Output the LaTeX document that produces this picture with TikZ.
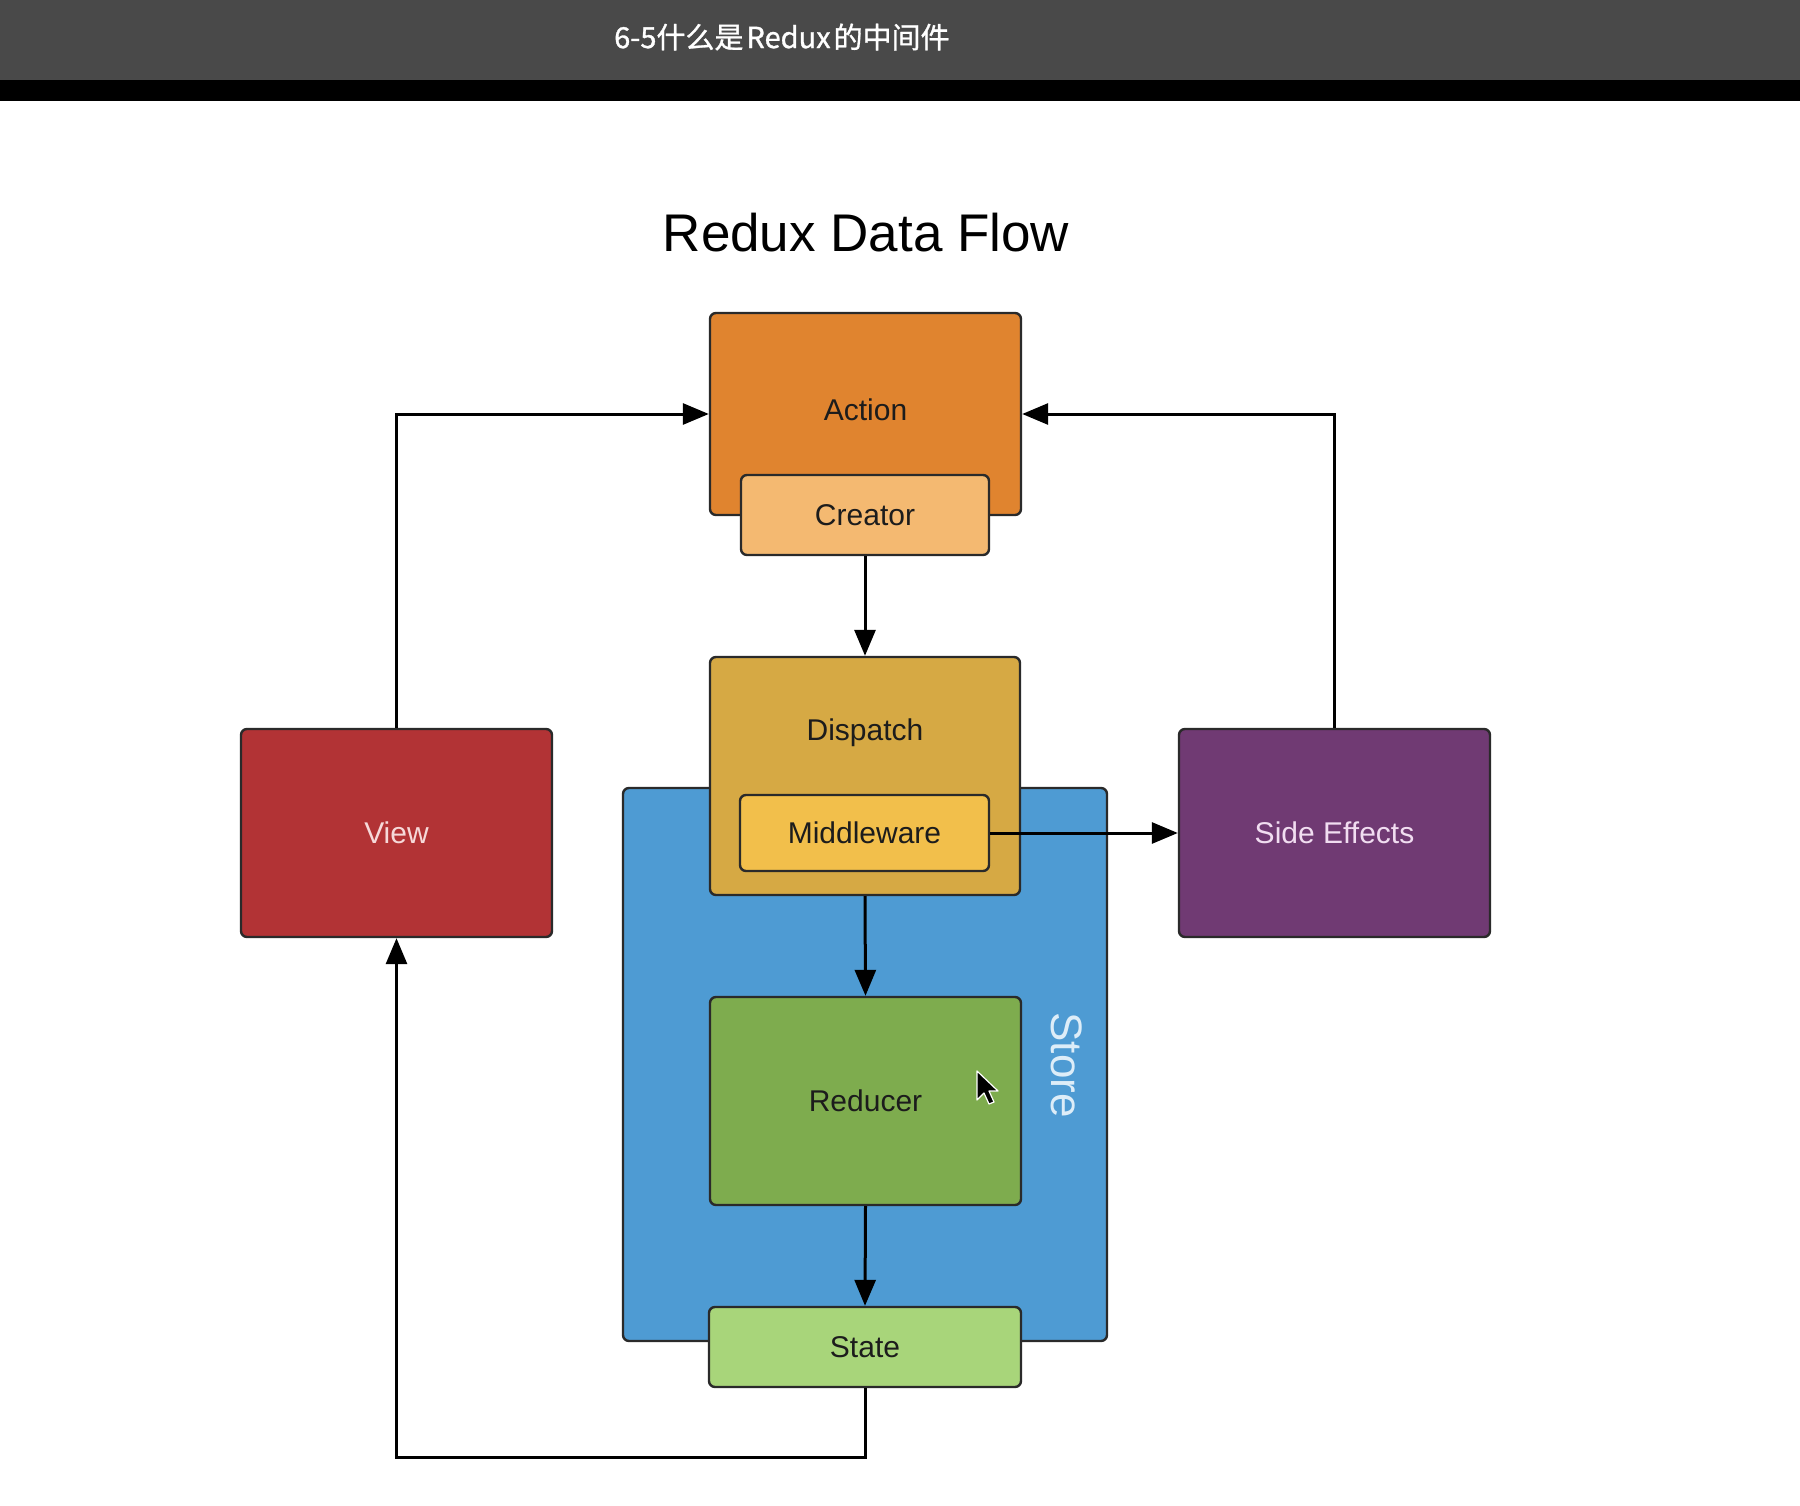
\documentclass[tikz,border=0pt]{standalone}
\usepackage{fontspec}
\setmainfont{Liberation Sans}
\newfontfamily\cjkfont[FakeBold=1]{Noto Sans CJK SC}
\usetikzlibrary{arrows.meta,calc}
\definecolor{hdrgray}{HTML}{494949}
\definecolor{cAction}{HTML}{E0842F}
\definecolor{cCreator}{HTML}{F4B971}
\definecolor{cDispatch}{HTML}{D6A944}
\definecolor{cMiddle}{HTML}{F2BF4B}
\definecolor{cStore}{HTML}{4E9BD3}
\definecolor{cReducer}{HTML}{7EAC4E}
\definecolor{cState}{HTML}{A8D57A}
\definecolor{cView}{HTML}{B23335}
\definecolor{cSide}{HTML}{703A73}
\definecolor{cBorder}{HTML}{2A2A2A}
\definecolor{cDark}{HTML}{1C1C1C}
\definecolor{cViewTxt}{HTML}{F6D9D9}
\definecolor{cSideTxt}{HTML}{F1DDF1}
\definecolor{cStoreTxt}{HTML}{DDEDF8}
\tikzset{
  boxstyle/.style={draw=cBorder, line width=2.4pt, rounded corners=6pt, rectangle, inner sep=0pt, font=\fontsize{30}{36}\selectfont, text=cDark},
  arr/.style={line width=3pt, -{Triangle[length=26pt,width=21pt]}}
}
\begin{document}
\begin{tikzpicture}[x=1pt,y=-1pt]
\useasboundingbox (0,0) rectangle (1800,1506);
\fill[white] (0,0) rectangle (1800,1506);
% header
\fill[hdrgray] (0,0) rectangle (1800,80);
\fill[black] (0,80) rectangle (1800,101);
\node[text=white, anchor=west, inner sep=0pt, font=\cjkfont\fontsize{29}{33}\selectfont] (hdr) at (614,37) {6-5什么是\hspace{3pt}Redux\hspace{3pt}的中间件};
% title
\node[inner sep=0pt, font=\fontsize{53}{60}\selectfont, text=black] (title) at (866,233) {Redux Data Flow};
% store
\node[boxstyle, fill=cStore, minimum width=484pt, minimum height=553pt] (store) at (865,1064.5) {};
\node[rotate=-90, inner sep=0pt, font=\fontsize{44}{50}\selectfont, text=cStoreTxt] (storeT) at (1067,1065) {Store};
% action / creator
\node[boxstyle, fill=cAction, minimum width=311pt, minimum height=202pt] (action) at (865.5,414) {};
\node[inner sep=0pt, font=\fontsize{30}{36}\selectfont, text=cDark] (actionT) at (865.5,410) {Action};
\node[boxstyle, fill=cCreator, minimum width=248pt, minimum height=80pt] (creator) at (865,515) {Creator};
% dispatch / middleware
\node[boxstyle, fill=cDispatch, minimum width=310pt, minimum height=238pt] (disp) at (865,776) {};
\node[inner sep=0pt, font=\fontsize{30}{36}\selectfont, text=cDark] (dispT) at (865,733) {Dispatch};
\node[boxstyle, fill=cMiddle, minimum width=249pt, minimum height=76pt] (mw) at (864.5,833) {Middleware};
% reducer / state
\node[boxstyle, fill=cReducer, minimum width=311pt, minimum height=208pt] (red) at (865.5,1101) {Reducer};
\node[boxstyle, fill=cState, minimum width=312pt, minimum height=80pt] (state) at (865,1347) {State};
% view / side effects
\node[boxstyle, fill=cView, minimum width=311pt, minimum height=208pt, text=cViewTxt] (view) at (396.5,833) {View};
\node[boxstyle, fill=cSide, minimum width=311pt, minimum height=208pt, text=cSideTxt] (side) at (1334.5,833) {Side Effects};
% connectors
\draw[arr] (view.north) |- (action.west);
\draw[arr] (side.north) |- (action.east);
\draw[arr] (creator.south) -- (disp.north);
\draw[arr] (mw.east) -- (side.west);
\draw[arr] (disp.south) -- (red.north);
\draw[arr] (red.south) -- (state.north);
\coordinate (bot) at (865,1457);
\draw[arr] (state.south) -- (bot) -| (view.south);
% mouse cursor
\draw[fill=black, draw=white, line width=1.2pt, line join=round]
  (977,1071) -- (977,1100) -- (984,1093) -- (989,1104) -- (994,1102) -- (989,1091) -- (998,1091) -- cycle;
\end{tikzpicture}
\end{document}
